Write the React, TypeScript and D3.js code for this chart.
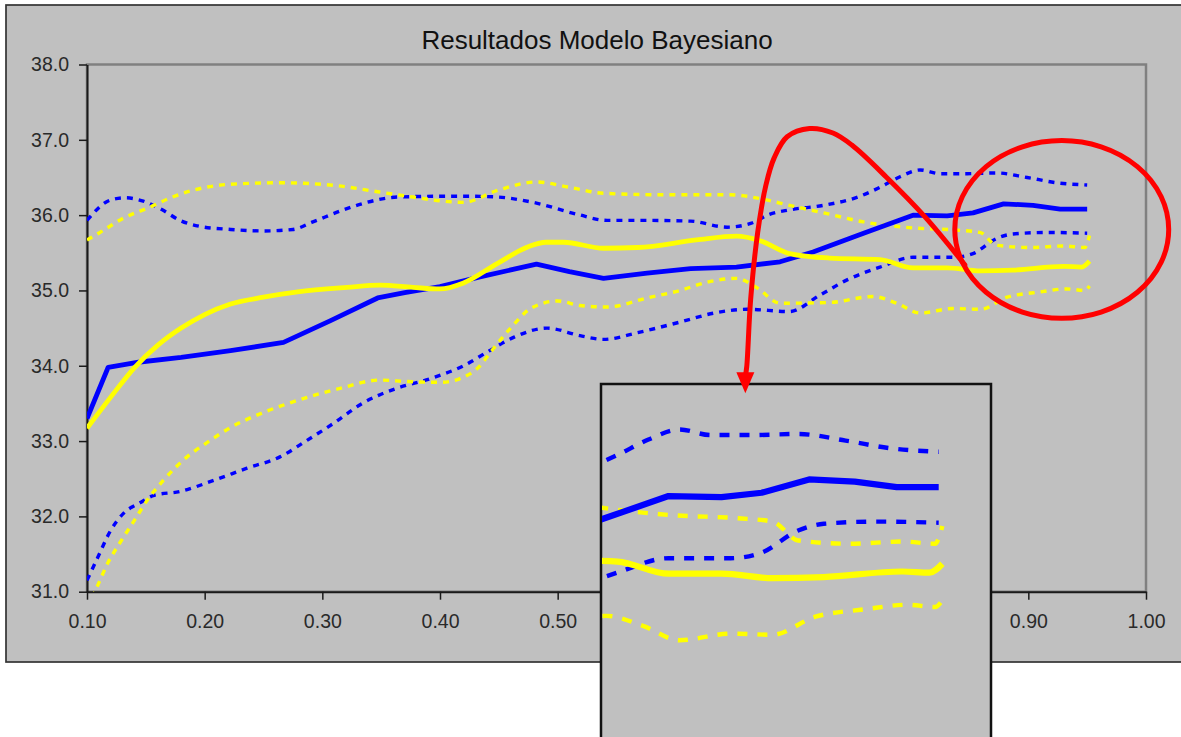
import * as d3 from 'd3';
import { useEffect, useRef } from 'react';

type Pt = [number, number];

const chartTitle = 'Resultados Modelo Bayesiano';
const xTicks = [0.1, 0.2, 0.3, 0.4, 0.5, 0.6, 0.7, 0.8, 0.9, 1.0];
const yTicks = [31, 32, 33, 34, 35, 36, 37, 38];

// media azul (línea sólida)
const blueMid: Pt[] = [
    [0.1, 33.3], [0.118, 33.98], [0.145, 34.05], [0.18, 34.11], [0.222, 34.2], [0.267, 34.31],
    [0.307, 34.6], [0.347, 34.9], [0.37, 34.97], [0.4, 35.05], [0.434, 35.18], [0.482, 35.35],
    [0.51, 35.25], [0.539, 35.16], [0.576, 35.23], [0.613, 35.29], [0.652, 35.31], [0.689, 35.38],
    [0.717, 35.51], [0.76, 35.76], [0.802, 36.0], [0.831, 35.99], [0.853, 36.03], [0.879, 36.15],
    [0.904, 36.13], [0.927, 36.08], [0.95, 36.08],
];
const blueHigh: Pt[] = [
    [0.1, 35.93], [0.12, 36.2], [0.133, 36.23], [0.147, 36.19], [0.164, 36.07], [0.179, 35.93],
    [0.196, 35.85], [0.222, 35.81], [0.25, 35.79], [0.275, 35.81], [0.292, 35.91], [0.318, 36.07],
    [0.338, 36.17], [0.364, 36.24], [0.4, 36.25], [0.426, 36.25], [0.449, 36.24], [0.479, 36.17],
    [0.517, 36.01], [0.542, 35.93], [0.576, 35.93], [0.613, 35.92], [0.644, 35.84], [0.664, 35.89],
    [0.68, 36.01], [0.697, 36.07], [0.726, 36.13], [0.755, 36.24], [0.774, 36.37], [0.791, 36.51],
    [0.808, 36.6], [0.825, 36.55], [0.848, 36.55], [0.873, 36.56], [0.899, 36.5], [0.924, 36.43],
    [0.95, 36.4],
];
const blueLow: Pt[] = [
    [0.1, 31.15], [0.109, 31.45], [0.12, 31.81], [0.131, 32.04], [0.145, 32.18], [0.157, 32.28],
    [0.179, 32.33], [0.208, 32.48], [0.236, 32.64], [0.264, 32.79], [0.287, 33.01], [0.309, 33.23],
    [0.335, 33.51], [0.363, 33.7], [0.392, 33.83], [0.42, 34.0], [0.442, 34.2], [0.463, 34.38],
    [0.491, 34.5], [0.519, 34.4], [0.539, 34.35], [0.568, 34.44], [0.604, 34.58], [0.633, 34.7],
    [0.661, 34.75], [0.697, 34.72], [0.723, 34.94], [0.746, 35.14], [0.774, 35.31], [0.802, 35.44],
    [0.836, 35.44], [0.853, 35.49], [0.873, 35.69], [0.887, 35.75], [0.916, 35.77], [0.95, 35.76],
];
// media amarilla
const yellowMid: Pt[] = [
    [0.1, 33.17], [0.12, 33.58], [0.14, 33.97], [0.16, 34.27], [0.18, 34.5], [0.2, 34.68],
    [0.222, 34.82], [0.25, 34.91], [0.279, 34.98], [0.321, 35.04], [0.349, 35.07], [0.377, 35.04],
    [0.4, 35.02], [0.42, 35.1], [0.449, 35.36], [0.475, 35.58], [0.49, 35.64], [0.505, 35.64],
    [0.539, 35.56], [0.568, 35.57], [0.618, 35.67], [0.652, 35.72], [0.672, 35.66], [0.697, 35.49],
    [0.731, 35.43], [0.774, 35.41], [0.802, 35.3], [0.831, 35.3], [0.859, 35.26], [0.887, 35.27],
    [0.93, 35.32], [0.945, 35.31], [0.952, 35.39],
];
const yellowHigh: Pt[] = [
    [0.1, 35.67], [0.111, 35.77], [0.131, 35.96], [0.154, 36.11], [0.171, 36.23], [0.19, 36.33],
    [0.222, 36.41], [0.264, 36.43], [0.313, 36.39], [0.347, 36.31], [0.377, 36.24], [0.4, 36.19],
    [0.42, 36.17], [0.449, 36.33], [0.482, 36.44], [0.51, 36.37], [0.539, 36.29], [0.59, 36.27],
    [0.647, 36.27], [0.675, 36.21], [0.697, 36.13], [0.726, 36.03], [0.76, 35.91], [0.802, 35.83],
    [0.84, 35.8], [0.859, 35.77], [0.873, 35.6], [0.902, 35.57], [0.93, 35.59], [0.948, 35.57],
    [0.952, 35.73],
];
const yellowLow: Pt[] = [
    [0.1, 30.78], [0.107, 31.01], [0.118, 31.39], [0.128, 31.65], [0.14, 31.94], [0.151, 32.21],
    [0.165, 32.48], [0.185, 32.79], [0.202, 32.98], [0.222, 33.18], [0.25, 33.38], [0.279, 33.54],
    [0.315, 33.7], [0.349, 33.81], [0.372, 33.79], [0.4, 33.78], [0.417, 33.83], [0.434, 34.0],
    [0.443, 34.18], [0.46, 34.5], [0.477, 34.76], [0.5, 34.86], [0.519, 34.8], [0.542, 34.78],
    [0.576, 34.9], [0.604, 35.0], [0.627, 35.11], [0.652, 35.16], [0.669, 35.04], [0.689, 34.83],
    [0.731, 34.84], [0.768, 34.92], [0.788, 34.83], [0.808, 34.7], [0.836, 34.76], [0.859, 34.75],
    [0.882, 34.91], [0.91, 34.98], [0.933, 35.02], [0.948, 35.0], [0.952, 35.06],
];

// anotación roja (en unidades del gráfico)
const arrowPath: Pt[] = [
    [0.846, 35.34], [0.812, 35.98], [0.779, 36.51], [0.75, 36.93], [0.734, 37.09], [0.714, 37.15],
    [0.695, 37.04], [0.684, 36.76], [0.677, 36.4], [0.67, 35.77], [0.664, 34.88], [0.6607, 33.99],
    [0.6595, 33.86],
];
const circleCenter: Pt = [0.9284, 35.81];
const circleRadius: Pt = [0.0909, 1.18];

// zona ampliada
const zoomX: Pt = [0.765, 0.95];
const zoomY: Pt = [35.0, 36.4];

const font = '"Liberation Sans", Arial, sans-serif';

export default function App() {
    const chartRef = useRef<SVGSVGElement | null>(null);

    useEffect(() => {
        if (!chartRef.current) return;
        const svg = d3.select(chartRef.current);
        svg.selectAll('*').remove();

        const plot = { left: 87, right: 1146, top: 64.5, bottom: 591.7 };
        const inset = { left: 601, top: 384, right: 991, bottom: 800 };

        const x = d3.scaleLinear().domain([0.1, 1.0]).range([plot.left, plot.right]);
        const y = d3.scaleLinear().domain([31, 38]).range([plot.bottom, plot.top]);
        const xIn = d3.scaleLinear().domain(zoomX).range([601, 938.7]);
        const yIn = d3.scaleLinear().domain(zoomY).range([607, 451.7]);

        const series = [
            { data: blueHigh, color: '#0000ff', dashed: true, w: 3.4 },
            { data: blueLow, color: '#0000ff', dashed: true, w: 3.4 },
            { data: yellowHigh, color: '#ffff00', dashed: true, w: 3.4 },
            { data: yellowLow, color: '#ffff00', dashed: true, w: 3.4 },
            { data: blueMid, color: '#0000ff', dashed: false, w: 4.8, linear: true },
            { data: yellowMid, color: '#ffff00', dashed: false, w: 4.8 },
        ];

        const defs = svg.append('defs');
        defs.append('clipPath').attr('id', 'plotClip').append('rect')
            .attr('x', plot.left).attr('y', plot.top)
            .attr('width', plot.right - plot.left).attr('height', plot.bottom - plot.top);
        defs.append('clipPath').attr('id', 'insetClip').append('rect')
            .attr('x', inset.left + 1).attr('y', inset.top + 1)
            .attr('width', inset.right - inset.left - 2).attr('height', inset.bottom - inset.top);

        // marco exterior
        svg.append('rect')
            .attr('x', 6).attr('y', 5).attr('width', 1300).attr('height', 657)
            .attr('fill', '#c0c0c0').attr('stroke', '#333').attr('stroke-width', 1.7);

        svg.append('text')
            .attr('x', 597).attr('y', 49)
            .attr('text-anchor', 'middle')
            .attr('font-family', font).attr('font-size', 26).attr('fill', '#111')
            .text(chartTitle);

        // borde del área de trazado
        svg.append('rect')
            .attr('x', plot.left).attr('y', plot.top)
            .attr('width', plot.right - plot.left).attr('height', plot.bottom - plot.top)
            .attr('fill', 'none').attr('stroke', '#808080').attr('stroke-width', 2.5);

        const styleAxis = (g: d3.Selection<SVGGElement, unknown, null, undefined>) => {
            g.attr('font-family', font).attr('font-size', 19.5);
            g.select('.domain').attr('stroke', '#1a1a1a').attr('stroke-width', 2);
            g.selectAll('.tick line').attr('stroke', '#1a1a1a').attr('stroke-width', 1.5);
            g.selectAll('.tick text').attr('fill', '#2a2a2a');
        };

        svg.append('g')
            .attr('transform', `translate(${plot.left},0)`)
            .call(d3.axisLeft(y).tickValues(yTicks).tickFormat(d3.format('.1f')).tickSizeInner(8).tickSizeOuter(0).tickPadding(10))
            .call(styleAxis);

        svg.append('g')
            .attr('transform', `translate(0,${plot.bottom})`)
            .call(d3.axisBottom(x).tickValues(xTicks).tickFormat(d3.format('.2f')).tickSizeInner(8).tickSizeOuter(0).tickPadding(14))
            .call(styleAxis);

        const drawLines = (
            g: d3.Selection<SVGGElement, unknown, null, undefined>,
            xs: d3.ScaleLinear<number, number>,
            ys: d3.ScaleLinear<number, number>,
            k: number,
            dash: string,
        ) => {
            series.forEach((s) => {
                const line = d3.line<Pt>()
                    .x((d) => xs(d[0]))
                    .y((d) => ys(d[1]))
                    .curve(s.linear ? d3.curveLinear : d3.curveMonotoneX);
                g.append('path')
                    .datum(s.data)
                    .attr('d', line)
                    .attr('fill', 'none')
                    .attr('stroke', s.color)
                    .attr('stroke-width', s.w * k)
                    .attr('stroke-linejoin', 'round')
                    .attr('stroke-dasharray', s.dashed ? dash : null);
            });
        };

        drawLines(svg.append('g').attr('clip-path', 'url(#plotClip)'), x, y, 1, '6,6');

        // recuadro ampliado
        svg.append('rect')
            .attr('x', inset.left).attr('y', inset.top)
            .attr('width', inset.right - inset.left).attr('height', inset.bottom - inset.top)
            .attr('fill', '#c0c0c0').attr('stroke', '#111').attr('stroke-width', 2.5);
        drawLines(svg.append('g').attr('clip-path', 'url(#insetClip)'), xIn, yIn, 1.3, '10,10');

        // anotaciones rojas
        const red = '#ff0000';
        svg.append('path')
            .datum(arrowPath)
            .attr('d', d3.line<Pt>().x((d) => x(d[0])).y((d) => y(d[1])).curve(d3.curveCatmullRom))
            .attr('fill', 'none').attr('stroke', red).attr('stroke-width', 5).attr('stroke-linecap', 'round');

        const tip = arrowPath[arrowPath.length - 1];
        const tx = x(tip[0]);
        const ty = y(tip[1]);
        svg.append('path')
            .attr('d', `M${tx - 9},${ty - 4} L${tx + 9},${ty - 4} L${tx},${ty + 17} Z`)
            .attr('fill', red);

        svg.append('ellipse')
            .attr('cx', x(circleCenter[0])).attr('cy', y(circleCenter[1]))
            .attr('rx', x(circleCenter[0] + circleRadius[0]) - x(circleCenter[0]))
            .attr('ry', y(circleCenter[1] - circleRadius[1]) - y(circleCenter[1]))
            .attr('fill', 'none').attr('stroke', red).attr('stroke-width', 5);
    }, []);

    return (
        <svg
            ref={chartRef}
            width={1181}
            height={737}
            style={{ position: 'absolute', left: 0, top: 0, background: '#fff' }}
        />
    );
}
